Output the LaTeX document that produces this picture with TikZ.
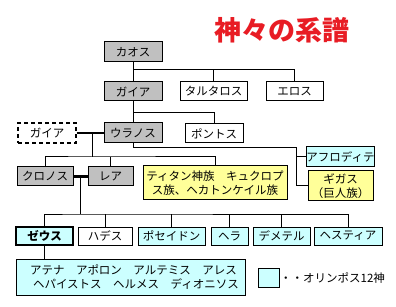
\documentclass[tikz,border=0pt]{standalone}
\usepackage{fontspec}
\setmainfont{Noto Sans CJK JP}
\definecolor{boxgray}{RGB}{192,192,192}
\definecolor{boxcyan}{RGB}{204,255,255}
\definecolor{boxyellow}{RGB}{255,255,153}
\definecolor{titlered}{RGB}{232,28,36}
\tikzset{
  box/.style={draw=black, line width=1pt, inner sep=0pt, font=\fontsize{11.5}{14.5}\selectfont, minimum height=19pt, align=center},
  graybox/.style={box, fill=boxgray},
  whitebox/.style={box, fill=white},
  cyanbox/.style={box, fill=boxcyan},
  yellowbox/.style={box, fill=boxyellow},
  dashbox/.style={box, dash pattern=on 4pt off 3pt, line width=1.2pt},
  link/.style={line width=1pt},
  couple/.style={line width=2.5pt},
}
\begin{document}
\begin{tikzpicture}[x=1pt,y=-1pt]
\useasboundingbox[fill=white] (0,0) rectangle (396,307);
% title
\node[text=titlered, font=\fontsize{27}{30}\selectfont\bfseries, inner sep=0pt] (title) at (282,30) {神々の系譜};
% boxes
\node[graybox, minimum width=58pt, minimum height=20pt] (kaos) at (133,52) {カオス};
\node[graybox, minimum width=58pt] (gaia) at (133,91.5) {ガイア};
\node[whitebox, minimum width=67pt] (tartaros) at (213.5,91.5) {タルタロス};
\node[whitebox, minimum width=57pt] (eros) at (294.5,91.5) {エロス};
\node[dashbox, minimum width=58pt, minimum height=20pt] (gaia2) at (47,133) {ガイア};
\node[graybox, minimum width=58pt, minimum height=20pt] (uranos) at (133,133) {ウラノス};
\node[whitebox, minimum width=58pt] (pontos) at (214,133.5) {ポントス};
\node[graybox, minimum width=56pt] (kronos) at (45,176.5) {クロノス};
\node[graybox, minimum width=45pt] (rhea) at (110.5,176.5) {レア};
\node[yellowbox, minimum width=144pt, minimum height=34pt] (titan) at (215,183) {ティタン神族　キュクロプ\\ス族、ヘカトンケイル族};
\node[cyanbox, minimum width=65pt, minimum height=20pt] (aphro) at (340.5,157) {アフロディテ};
\node[yellowbox, minimum width=65pt, minimum height=30pt] (gigas) at (340.5,186) {ギガス\\（巨人族）};
\node[cyanbox, minimum width=57pt, minimum height=18pt, line width=2.2pt, font=\fontsize{11.5}{14.5}\selectfont\bfseries] (zeus) at (44.5,236) {ゼウス};
\node[whitebox, minimum width=54pt, minimum height=18pt] (hades) at (105,236) {ハデス};
\node[cyanbox, minimum width=67pt, minimum height=18pt] (poseidon) at (171.5,236) {ポセイドン};
\node[cyanbox, minimum width=37pt, minimum height=18pt] (hera) at (229.5,236) {ヘラ};
\node[cyanbox, minimum width=57pt, minimum height=18pt] (demeter) at (281.5,236) {デメテル};
\node[cyanbox, minimum width=68pt, minimum height=18pt] (hestia) at (348,236) {ヘスティア};
\node[cyanbox, minimum width=229pt, minimum height=36pt, align=left, text width=201pt] (olymp) at (130.5,277) {アテナ　アポロン　アルテミス　アレス\\ \hspace*{3pt}ヘパイストス　ヘルメス　ディオニソス};
\node[cyanbox, minimum width=21pt, minimum height=19pt] (legend) at (268.5,277.5) {};
\node[anchor=west, inner sep=0pt, font=\fontsize{11.5}{14.5}\selectfont] (legendtext) at (280,278) {・・オリンポス12神};
% connectors
\coordinate (j1) at (133,70);
\draw[link] (kaos) -- (gaia);
\draw[link] (j1) -| (eros.north);
\draw[link] (tartaros.north) -- (tartaros.north |- j1);
\coordinate (j2) at (133,113);
\draw[link] (gaia) -- (uranos);
\draw[link] (j2) -| (pontos.north);
\draw[couple] (gaia2.east) -- (uranos.west);
\coordinate (j3) at (92,133);
\coordinate (j4) at (92,157);
\draw[link] (j3) -- (j4);
\draw[link] (kronos.north) |- (j4) -| (titan.north);
\draw[link] (rhea.north) -- (rhea.north |- j4);
\coordinate (j5) at (296,148);
\draw[link] (uranos.south) |- (j5) |- (gigas.west);
\draw[link] (aphro.west) -- (aphro.west -| j5);
\draw[couple] (kronos.east) -- (rhea.west);
\coordinate (j6) at (80,177);
\coordinate (j7) at (80,214);
\draw[link] (j6) -- (j7);
\draw[link] (zeus.north) |- (j7) -| (hestia.north);
\draw[link] (hades.north) -- (hades.north |- j7);
\draw[link] (poseidon.north) -- (poseidon.north |- j7);
\draw[link] (hera.north) -- (hera.north |- j7);
\draw[link] (demeter.north) -- (demeter.north |- j7);
\draw[link] (zeus.south) -- (zeus.south |- olymp.north);
\end{tikzpicture}
\end{document}
